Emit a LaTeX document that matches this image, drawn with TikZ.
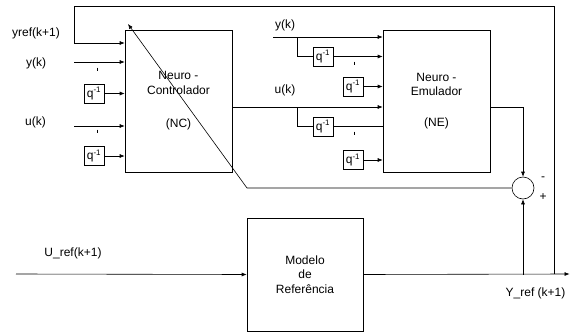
\documentclass[tikz,border=0pt]{standalone}
\usepackage{fontspec}
\setmainfont{Liberation Sans}
\usetikzlibrary{positioning,calc,arrows.meta}

\begin{document}
\begin{tikzpicture}[x=1pt, y=-1pt, font=\fontsize{12}{14.5}\selectfont,
  block/.style={draw, line width=0.6pt, align=center, inner sep=0pt},
  delay/.style={draw, line width=0.6pt, minimum width=20pt, minimum height=19pt, inner sep=0pt},
  wire/.style={line width=0.6pt},
  sig/.style={wire, -{Latex[length=5pt,width=4pt]}}]
  \useasboundingbox (0,0) rectangle (570,332);

  % Main blocks
  \node[block, minimum width=107pt, minimum height=142pt] (nc) at (178.5,101) {Neuro -\\Controlador\\[19pt](NC)};
  \node[block, minimum width=107pt, minimum height=142pt] (ne) at (436.5,101) {Neuro -\\Emulador\\[16pt](NE)};
  \node[block, minimum width=116pt, minimum height=113pt] (mr) at (305,274.5) {Modelo\\de\\Referência};
  \node[draw, circle, minimum size=22pt, inner sep=0pt, line width=0.6pt] (sum) at (523,188) {};
  \node (minus) at (543,179) {-};
  \node (plus) at (543,197) {+};

  % Delays feeding NC
  \node[delay] (qync) at (94,93.5) {q\textsuperscript{-1}};
  \node[delay] (qunc) at (94,156) {q\textsuperscript{-1}};
  % Delays feeding NE
  \node[delay] (qyne1) at (323,56.5) {q\textsuperscript{-1}};
  \node[delay] (qyne2) at (353,86.5) {q\textsuperscript{-1}};
  \node[delay] (qune1) at (323,126.5) {q\textsuperscript{-1}};
  \node[delay] (qune2) at (353,160) {q\textsuperscript{-1}};

  % Labels
  \node (lyref) at (36,33) {yref(k+1)};
  \node (lync) at (36,63) {y(k)};
  \node (lunc) at (35.5,122) {u(k)};
  \node (lyne) at (285,25) {y(k)};
  \node (lune) at (285,90) {u(k)};
  \node (luref) at (73,253) {U\_ref(k+1)};
  \node (lyrefout) at (535.5,293) {Y\_ref (k+1)};

  % NC inputs
  \coordinate (ykin) at (74,62);
  \coordinate (ukin) at (74,126);
  \draw[sig] (ykin) -- (ykin -| nc.west);
  \draw[sig] (ukin) -- (ukin -| nc.west);
  \draw[sig] (qync.east) -- (qync.east -| nc.west);
  \draw[sig] (qunc.east) -- (qunc.east -| nc.west);

  % NE inputs
  \coordinate (ykne) at (273,37);
  \coordinate (bry) at (297,37);
  \draw[sig] (ykne) -- (ykne -| ne.west);
  \draw[wire] (bry) |- (qyne1.west);
  \draw[sig] (qyne1.east) -- (qyne1.east -| ne.west);
  \draw[sig] (qyne2.east) -- (qyne2.east -| ne.west);
  \coordinate (ncout) at (232,107);
  \coordinate (bru) at (297,107);
  \draw[sig] (ncout) -- (ncout -| ne.west);
  \draw[wire] (bru) |- (qune1.west);
  \draw[wire] (qune1.east) -- (qune1.east -| ne.west);
  \draw[sig] (qune2.east) -- (qune2.east -| ne.west);

  % Small tick marks
  \foreach \tx/\ty in {97/69, 97/131, 354/63, 354/133}
    \draw[wire] (\tx,\ty-1.5) -- (\tx,\ty+1.5);

  % NE output to the summing junction
  \coordinate (neout) at (490,107);
  \draw[sig] (neout) -| (sum.north);

  % Reference model path
  \coordinate (urefin) at (16,274);
  \coordinate (yrefend) at (569.5,274);
  \coordinate (fbtap) at (554,274);
  \draw[sig] (urefin) -- (mr.west);
  \draw[sig] (mr.east) -- (yrefend);
  \draw[sig] (sum.south |- mr.east) -- (sum.south);

  % Feedback of yref(k+1) to NC
  \draw[sig] (fbtap) -- (554,6) -- (74,6) -- (74,43) -- (74,43 -| nc.west);

  % Error back through NC
  \coordinate (errbend) at (247,188);
  \coordinate (errtip) at (128,24);
  \draw[sig] (sum.west) -- (errbend) -- (errtip);
\end{tikzpicture}
\end{document}
